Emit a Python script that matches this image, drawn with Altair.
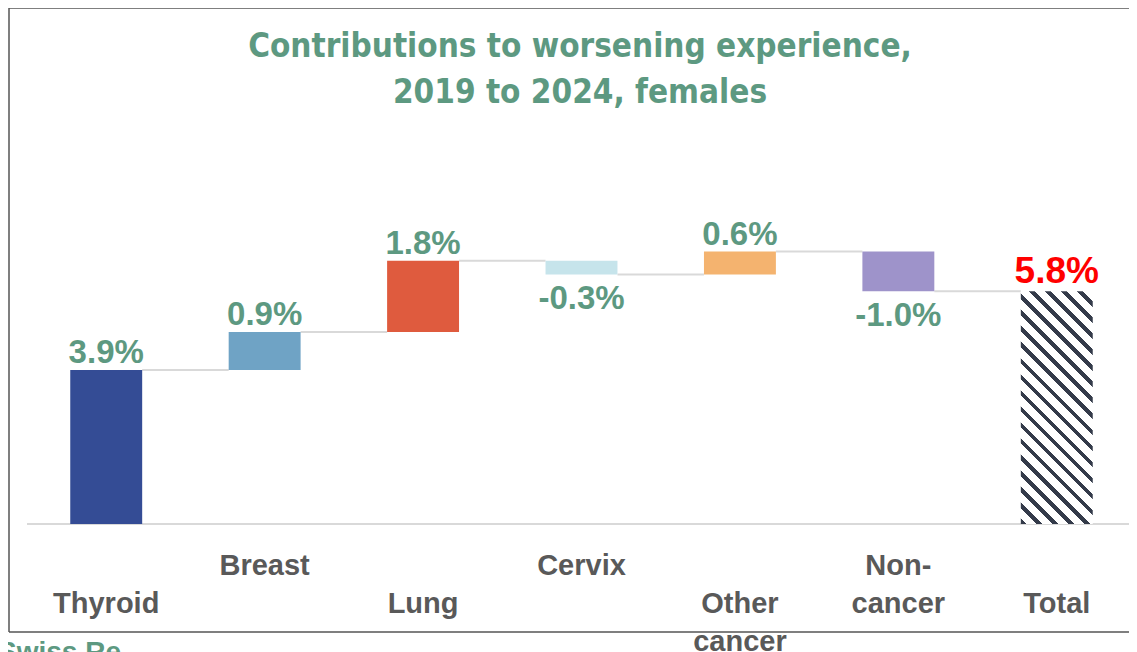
import altair as alt
import pandas as pd

# ---- data ----
categories = ["Thyroid", "Breast", "Lung", "Cervix", "Other\ncancer", "Non-\ncancer", "Total"]
contributions = [3.85, 0.95, 1.78, -0.34, 0.57, -0.99]
value_labels = ["3.9%", "0.9%", "1.8%", "-0.3%", "0.6%", "-1.0%", "5.8%"]
bar_colors = ["#344C95", "#6FA3C5", "#DF5B3E", "#C6E4EB", "#F4B36F", "#9E93CA"]
title_lines = ["Contributions to worsening experience,", "2019 to 2024, females"]
source_text = "Swiss Re"

# ---- build tables ----
rows = []
level = 0.0
for i, (cat, v) in enumerate(zip(categories[:-1], contributions)):
    start, end = level, level + v
    rows.append({"cat": cat, "idx": i, "start": start, "end": end,
                 "label": value_labels[i], "sign": "pos" if v >= 0 else "neg"})
    level = end
rows.append({"cat": categories[-1], "idx": len(categories) - 1, "start": 0.0, "end": level,
             "label": value_labels[-1], "sign": "total"})
df = pd.DataFrame(rows)

conn = pd.DataFrame({
    "cat": categories[:-1],
    "next": categories[1:],
    "level": df["end"].iloc[:-1].tolist(),
})

GREEN = "#5D9981"
GREY = "#595959"
LINE = "#D9D9D9"
STRIPE = "#343B4A"
FRAME = "#555555"

W, H = 1120, 624
xscale = alt.Scale(domain=categories, range=[18, 1127], paddingInner=0.546, paddingOuter=0.273)
yscale = alt.Scale(domain=[-2.7, 12.9], range=[H, 0], nice=False, zero=False)

X = alt.X("cat:N", scale=xscale, axis=None, sort=None)

# hatched fill for the total bar (diagonal stripes via hard-stop gradient)
bw, bh = 72.0, 233.0
t = (bw + bh) / (bw * bw + bh * bh)
gx2, gy2 = t * bw, 1 - t * bh
n_str, dark = 19, 0.36
stops = []
for k in range(n_str):
    a, b, c = k / n_str, (k + dark) / n_str, (k + 1) / n_str
    stops += [{"offset": a, "color": STRIPE}, {"offset": b, "color": STRIPE},
              {"offset": b, "color": "#FFFFFF"}, {"offset": c, "color": "#FFFFFF"}]
hatch = {"gradient": "linear", "x1": 0, "y1": 1, "x2": gx2, "y2": gy2, "stops": stops}

one = pd.DataFrame({"k": [0]})

# chart frame (top, left, bottom; runs off to the right as in the reference)
frame_top = alt.Chart(one).mark_rule(color=FRAME, strokeWidth=1.5).encode(
    x=alt.value(0), x2=alt.value(W + 1), y=alt.value(0))
frame_left = alt.Chart(one).mark_rule(color=FRAME, strokeWidth=1.5).encode(
    x=alt.value(0), y=alt.value(0), y2=alt.value(H))
frame_bottom = alt.Chart(one).mark_rule(color=FRAME, strokeWidth=1.5).encode(
    x=alt.value(0), x2=alt.value(W + 1), y=alt.value(H))

connectors = alt.Chart(conn).mark_rule(color=LINE, strokeWidth=2).encode(
    x=alt.X("cat:N", scale=xscale, axis=None, sort=None, bandPosition=1),
    x2=alt.X2("next:N", bandPosition=0),
    y=alt.Y("level:Q", scale=yscale, axis=None),
)

baseline = alt.Chart(pd.DataFrame({"y": [0.0]})).mark_rule(color=LINE, strokeWidth=2).encode(
    y=alt.Y("y:Q", scale=yscale, axis=None),
    x=alt.value(18),
    x2=alt.value(W + 1),
)

base = alt.Chart(df)

bars = base.transform_filter("datum.sign != 'total'").mark_bar().encode(
    x=X,
    y=alt.Y("start:Q", scale=yscale, axis=None),
    y2="end:Q",
    color=alt.Color("cat:N", scale=alt.Scale(domain=categories[:-1], range=bar_colors), legend=None),
)

total_bar = base.transform_filter("datum.sign == 'total'").mark_bar(fill=hatch, strokeWidth=0).encode(
    x=X,
    y=alt.Y("start:Q", scale=yscale, axis=None),
    y2="end:Q",
)

vfont = dict(font="Liberation Sans, Arial, sans-serif", fontWeight="bold", align="center")

pos_labels = base.transform_filter("datum.sign == 'pos'").mark_text(
    fontSize=33, color=GREEN, baseline="alphabetic", dy=-7, **vfont
).encode(x=X, y=alt.Y("end:Q", scale=yscale, axis=None), text="label:N")

neg_labels = base.transform_filter("datum.sign == 'neg'").mark_text(
    fontSize=33, color=GREEN, baseline="alphabetic", dy=35, **vfont
).encode(x=X, y=alt.Y("end:Q", scale=yscale, axis=None), text="label:N")

total_label = base.transform_filter("datum.sign == 'total'").mark_text(
    fontSize=37, color="#FF0000", baseline="alphabetic", dy=-8, **vfont
).encode(x=X, y=alt.Y("end:Q", scale=yscale, axis=None), text="label:N")

cfont = dict(font="Liberation Sans, Arial, sans-serif", fontWeight="bold", fontSize=29,
             color=GREY, align="center", baseline="alphabetic", lineBreak="\n", lineHeight=38)

cat_upper = base.transform_filter("datum.idx % 2 == 1").mark_text(**cfont).encode(
    x=X, y=alt.value(567), text="cat:N")
cat_lower = base.transform_filter("datum.idx % 2 == 0").mark_text(**cfont).encode(
    x=X, y=alt.value(605), text="cat:N")

title = alt.Chart(one).mark_text(
    text=title_lines, font="Liberation Sans Narrow, Arial Narrow, DejaVu Sans Condensed, sans-serif",
    fontWeight="bold", fontSize=33, color=GREEN, align="center", baseline="alphabetic", lineHeight=46,
).encode(x=alt.value(571), y=alt.value(49))

source = alt.Chart(one).mark_text(
    text=source_text, font="Liberation Sans, Arial, sans-serif", fontWeight="bold", fontSize=28,
    color=GREEN, align="left", baseline="alphabetic",
).encode(x=alt.value(-11), y=alt.value(653))

chart = alt.layer(
    frame_top, frame_left, frame_bottom,
    connectors, baseline, bars, total_bar, pos_labels, neg_labels, total_label,
    cat_upper, cat_lower, title, source,
).properties(
    width=W, height=H,
    autosize=alt.AutoSizeParams(type="none"),
    padding={"left": 1, "top": 0, "right": 0, "bottom": 20},
    background="#FFFFFF",
).configure_view(stroke=None)

chart.save("out.html", embed_options={"renderer": "svg", "actions": False})
